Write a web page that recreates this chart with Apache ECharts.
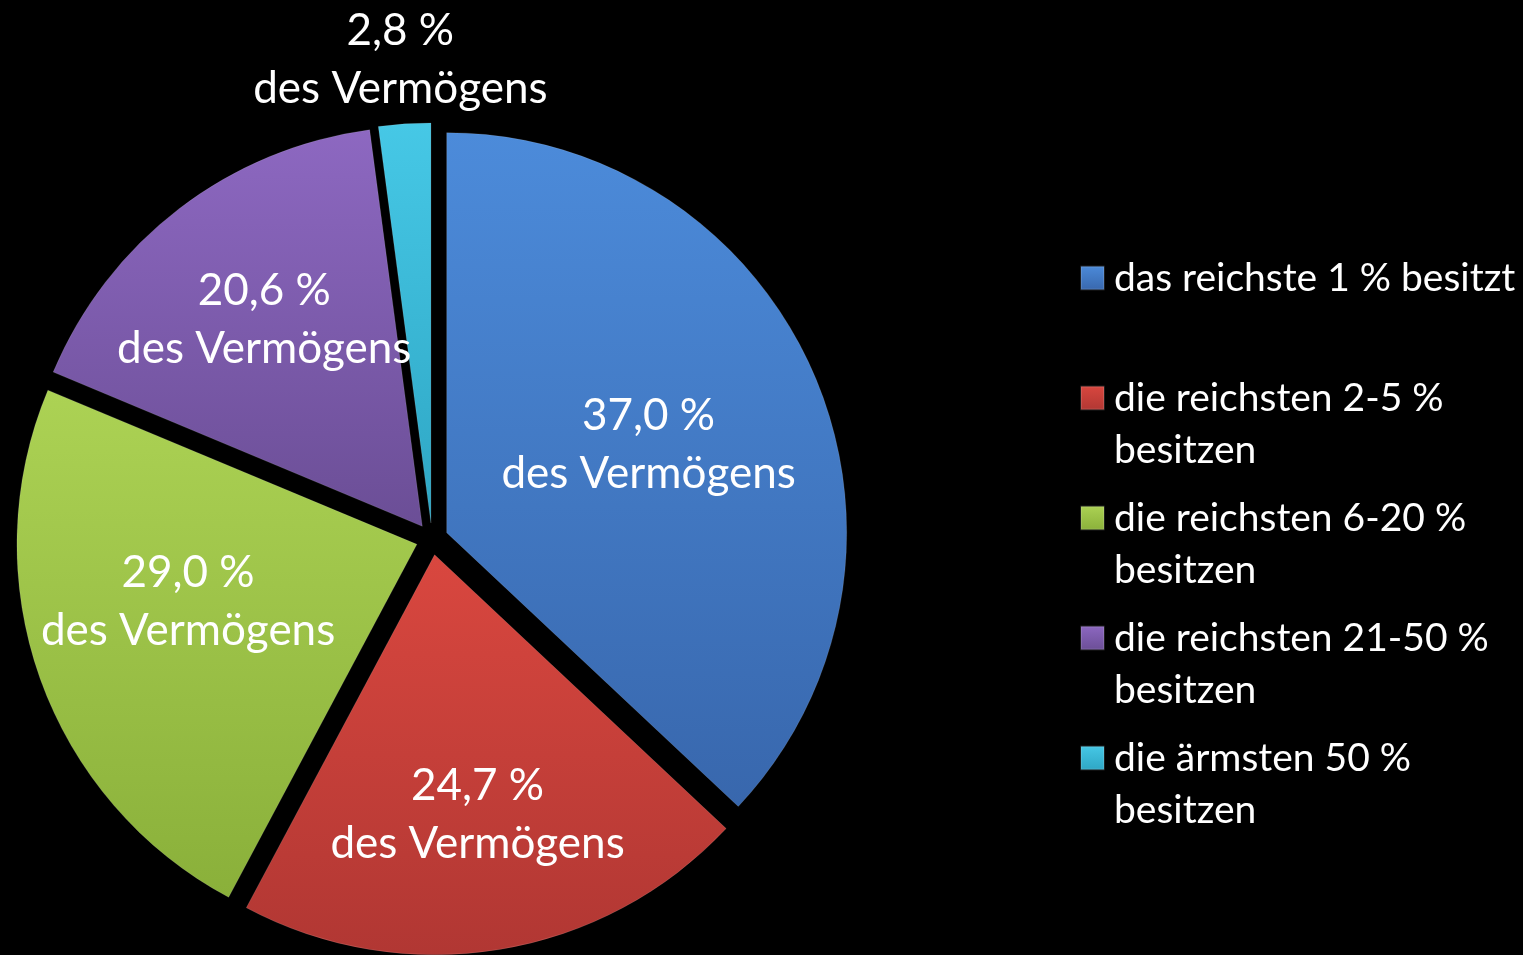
<!DOCTYPE html>
<html>
<head>
<meta charset="utf-8">
<script src="https://cdn.jsdelivr.net/npm/echarts@6/dist/echarts.min.js"></script>
<style>
  html, body { margin: 0; padding: 0; background: #000; }
  #main { width: 1523px; height: 955px; }
</style>
</head>
<body>
<div id="main"></div>
<script type="text/javascript">
// Legend names (second line after \n)
var categories = [
    'das reichste 1 % besitzt',
    'die reichsten 2-5 %\nbesitzen',
    'die reichsten 6-20 %\nbesitzen',
    'die reichsten 21-50 %\nbesitzen',
    'die ärmsten 50 %\nbesitzen'
];
// slice sizes
var sliceValues = [37.0, 20.8, 23.5, 16.6, 2.1];
// percentage texts printed on the slices
var labelTexts = ['37,0 %', '24,7 %', '29,0 %', '20,6 %', '2,8 %'];

// styling
var topColors = ['#4c8bda', '#d9473f', '#acd254', '#8d68c1', '#46c8e6'];
var bottomColors = ['#3867ad', '#b13733', '#8ab03a', '#6b4e96', '#2ea6c4'];
var CENTER = [432, 539];
var RADIUS = 400;
var OFFSET = 16;
// label distance from centre (part of radius) and a small turn in degrees
var labelDist = [0.59, 0.70, 0.63, 0.69, 1.2];
var labelTurn = [0, 0, 5.5, 0, 0];

var myChart = echarts.init(document.getElementById('main'));

var pieData = categories.map(function (name, i) {
    return {
        name: name,
        value: sliceValues[i],
        selected: true,
        itemStyle: {
            color: new echarts.graphic.LinearGradient(0, 0, 0, 1, [
                { offset: 0, color: topColors[i] },
                { offset: 1, color: bottomColors[i] }
            ])
        }
    };
});

var option = {
    backgroundColor: '#000',
    animation: false,
    legend: {
        orient: 'vertical',
        left: 1080,
        top: 200,
        padding: 0,
        itemWidth: 23,
        itemHeight: 23,
        itemGap: -36,
        icon: 'rect',
        selectedMode: false,
        formatter: function (name) {
            // keep the icon in line with the first text line
            return name.indexOf('\n') < 0 ? '\n' + name + '\n' : '\n' + name;
        },
        textStyle: {
            color: '#fff',
            fontFamily: 'Lato',
            fontSize: 39,
            lineHeight: 52,
            padding: [0, 0, 0, 5]
        },
        data: categories
    },
    series: [{
        type: 'pie',
        center: CENTER,
        radius: RADIUS,
        startAngle: 90,
        clockwise: true,
        selectedMode: 'multiple',
        selectedOffset: OFFSET,
        emphasis: { disabled: true },
        itemStyle: {
            borderColor: 'rgba(255,255,255,0.12)',
            borderWidth: 1
        },
        label: {
            show: true,
            position: 'inside',
            color: '#fff',
            fontFamily: 'Lato',
            fontSize: 44,
            lineHeight: 58,
            formatter: function (p) {
                return labelTexts[p.dataIndex] + '\ndes Vermögens';
            }
        },
        labelLine: { show: false },
        labelLayout: function (params) {
            var i = params.dataIndex;
            var r = params.labelRect;
            var lx = r.x + r.width / 2;
            var ly = r.y + r.height / 2;
            var ang = Math.atan2(ly - CENTER[1], lx - CENTER[0]) + labelTurn[i] * Math.PI / 180;
            // the selected offset is added on top of this later
            var want = labelDist[i] * RADIUS - OFFSET;
            return {
                dx: CENTER[0] + Math.cos(ang) * want - lx,
                dy: CENTER[1] + Math.sin(ang) * want - ly
            };
        },
        data: pieData
    }]
};

myChart.setOption(option);
</script>
</body>
</html>
